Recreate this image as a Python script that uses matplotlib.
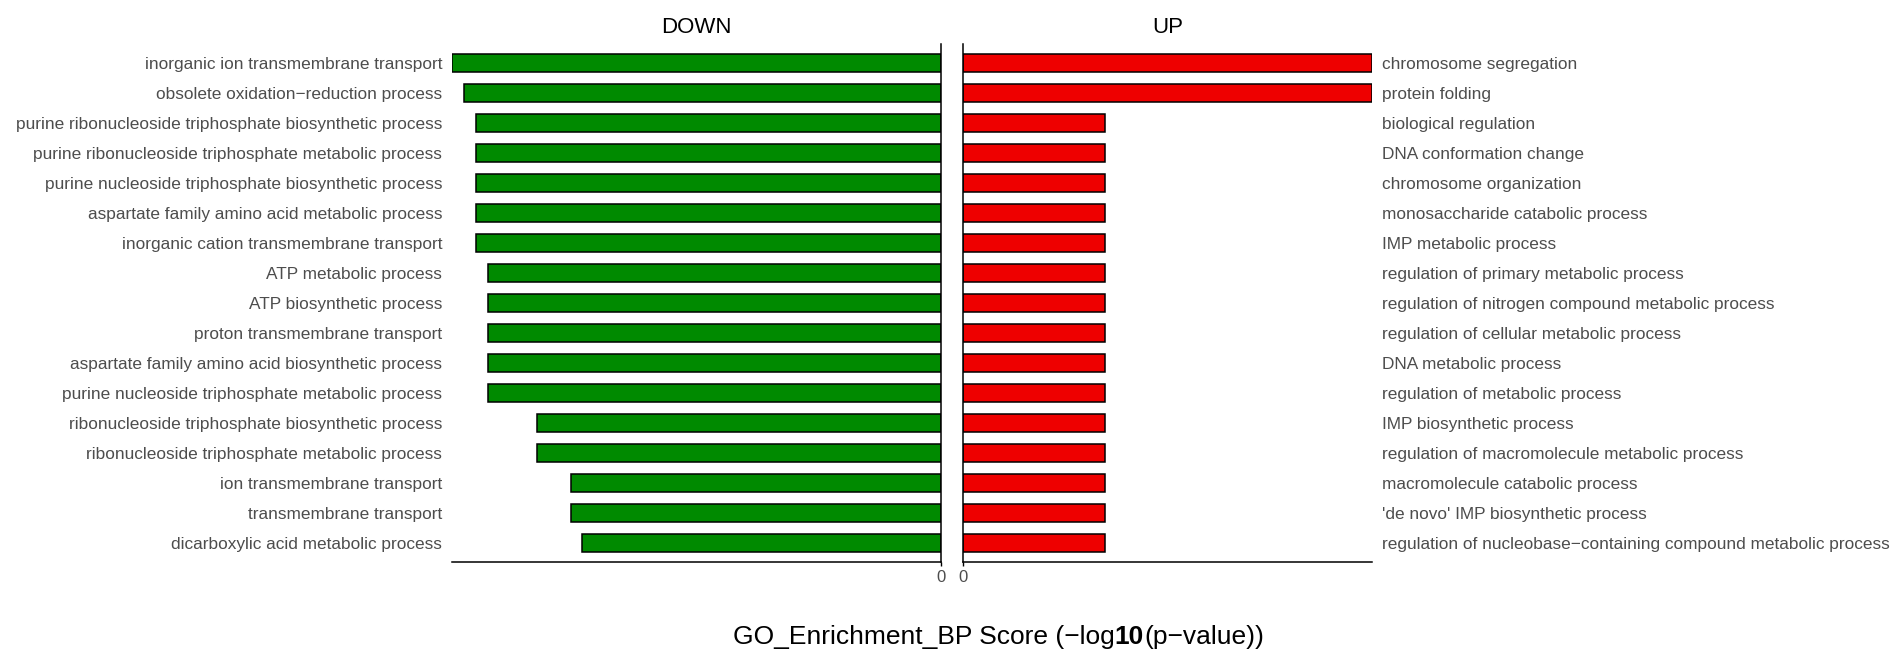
import matplotlib
matplotlib.use("Agg")
import matplotlib.pyplot as plt

plt.rcParams['font.family'] = ['Liberation Sans', 'DejaVu Sans']

# DOWN terms (top to bottom) and scores
down_terms = [
    "inorganic ion transmembrane transport",
    "obsolete oxidation\u2212reduction process",
    "purine ribonucleoside triphosphate biosynthetic process",
    "purine ribonucleoside triphosphate metabolic process",
    "purine nucleoside triphosphate biosynthetic process",
    "aspartate family amino acid metabolic process",
    "inorganic cation transmembrane transport",
    "ATP metabolic process",
    "ATP biosynthetic process",
    "proton transmembrane transport",
    "aspartate family amino acid biosynthetic process",
    "purine nucleoside triphosphate metabolic process",
    "ribonucleoside triphosphate biosynthetic process",
    "ribonucleoside triphosphate metabolic process",
    "ion transmembrane transport",
    "transmembrane transport",
    "dicarboxylic acid metabolic process",
]
down_scores = [4.89, 4.77, 4.65, 4.65, 4.65, 4.65, 4.65, 4.53, 4.53, 4.53,
               4.53, 4.53, 4.04, 4.04, 3.70, 3.70, 3.59]

# UP terms (top to bottom) and scores
up_terms = [
    "chromosome segregation",
    "protein folding",
    "biological regulation",
    "DNA conformation change",
    "chromosome organization",
    "monosaccharide catabolic process",
    "IMP metabolic process",
    "regulation of primary metabolic process",
    "regulation of nitrogen compound metabolic process",
    "regulation of cellular metabolic process",
    "DNA metabolic process",
    "regulation of metabolic process",
    "IMP biosynthetic process",
    "regulation of macromolecule metabolic process",
    "macromolecule catabolic process",
    "'de novo' IMP biosynthetic process",
    "regulation of nucleobase\u2212containing compound metabolic process",
]
up_scores = [4.10, 4.10, 1.42, 1.42, 1.42, 1.42, 1.42, 1.42, 1.42, 1.42,
             1.42, 1.42, 1.42, 1.42, 1.42, 1.42, 1.42]

W, H = 1902, 671
fig = plt.figure(figsize=(W / 100, H / 100), dpi=100)

top, bottom = 44, 562
ax_d = fig.add_axes([452 / W, 1 - bottom / H, (941 - 452) / W, (bottom - top) / H])
ax_u = fig.add_axes([963 / W, 1 - bottom / H, (1372 - 963) / W, (bottom - top) / H])

label_col = '#4D4D4D'

def style(ax, terms, scores, color, side):
    pos = list(range(len(terms)))
    ax.barh(pos, scores, height=0.6, color=color, edgecolor='black', linewidth=1.1)
    ax.set_ylim(len(terms) - 1 + 0.65, -0.62)
    ax.set_yticks(pos)
    ax.set_yticklabels(terms, fontsize=12.4, color=label_col)
    ax.tick_params(axis='y', length=0, pad=7)
    ax.set_xticks([0])
    ax.set_xticklabels(['0'], fontsize=12, color=label_col)
    ax.tick_params(axis='x', length=3, width=1, pad=3)
    for s in ax.spines.values():
        s.set_visible(False)
    ax.spines['bottom'].set_visible(True)
    ax.spines['bottom'].set_linewidth(1.1)
    if side == 'left':
        ax.set_xlim(max(scores), 0)
        ax.spines['right'].set_visible(True)
        ax.spines['right'].set_linewidth(1.1)
    else:
        ax.set_xlim(0, max(scores))
        ax.spines['left'].set_visible(True)
        ax.spines['left'].set_linewidth(1.1)
        ax.yaxis.tick_right()

style(ax_d, down_terms, down_scores, '#008A00', 'left')
style(ax_u, up_terms, up_scores, '#EE0000', 'right')

ax_d.set_title("DOWN", fontsize=16, pad=8)
ax_u.set_title("UP", fontsize=16, pad=8)

# x label with bold "10"
y_base = 1 - 644 / H
t1 = fig.text(733 / W, y_base, "GO_Enrichment_BP Score (\u2212log", fontsize=19,
              ha='left', va='baseline')
t2 = fig.text(0, y_base, "10", fontsize=19, fontweight='bold', ha='left', va='baseline')
t3 = fig.text(0, y_base, "(p\u2212value))", fontsize=19, ha='left', va='baseline')
fig.canvas.draw()
r = fig.canvas.get_renderer()
bb1 = t1.get_window_extent(r)
t2.set_position((bb1.x1 / W, y_base))
fig.canvas.draw()
bb2 = t2.get_window_extent(r)
t3.set_position((bb2.x1 / W, y_base))

fig.savefig("out.png", dpi=100)
